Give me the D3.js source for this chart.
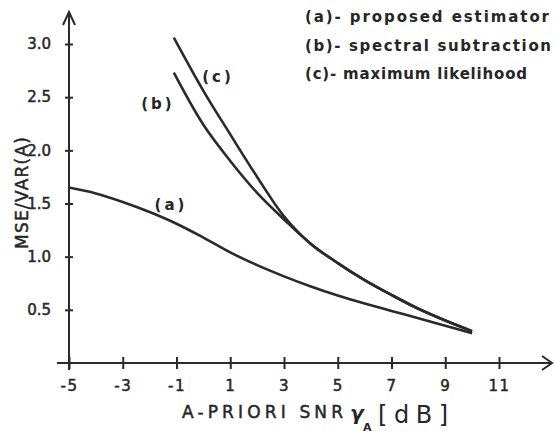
<!DOCTYPE html>
<html>
<head>
<meta charset="utf-8">
<script src="https://cdn.jsdelivr.net/npm/d3@7"></script>
<style>
  html, body { margin: 0; padding: 0; background: #ffffff; }
  svg { display: block; }
  text { font-family: "DejaVu Sans", "Liberation Sans", sans-serif; fill: #262626; }
</style>
</head>
<body>
<svg id="chart" width="555" height="437"></svg>
<script>
// ---- data ----
const xTicks = [-5, -3, -1, 1, 3, 5, 7, 9, 11];
const xTickLabels = ["-5", "-3", "-1", "1", "3", "5", "7", "9", "11"];
const yTicks = [0.5, 1.0, 1.5, 2.0, 2.5, 3.0];
const yTickLabels = ["0.5", "1.0", "1.5", "2.0", "2.5", "3.0"];

const xA = [-5, -4, -3, -2, -1, 0, 1, 2, 3, 4, 5, 6, 7, 8, 9, 10];
const yA = [1.65, 1.595, 1.515, 1.42, 1.31, 1.18, 1.04, 0.92, 0.815, 0.72, 0.635, 0.56, 0.49, 0.42, 0.35, 0.28];

const xB = [-1.1, 0, 1, 2, 3, 4, 5, 6, 7, 8, 9, 10];
const yB = [2.73, 2.24, 1.90, 1.60, 1.35, 1.12, 0.94, 0.78, 0.64, 0.51, 0.40, 0.30];

const xC = [-1.1, 0, 1, 2, 3, 4, 5, 6, 7, 8, 9, 10];
const yC = [3.06, 2.56, 2.15, 1.75, 1.38, 1.12, 0.94, 0.78, 0.64, 0.51, 0.40, 0.30];

const legendLines = ["(a)- proposed estimator", "(b)- spectral subtraction", "(c)- maximum likelihood"];
const curveLabels = ["(a)", "(b)", "(c)"];

// ---- chart ----
const svg = d3.select("#chart");
const ink = "#2a2a2a";

const x = d3.scaleLinear().domain([-5, 11]).range([69, 499]);
const y = d3.scaleLinear().domain([0, 3]).range([363, 44]);

// axis lines with arrows
svg.append("line").attr("x1", 57).attr("x2", 552).attr("y1", y(0)).attr("y2", y(0))
  .attr("stroke", ink).attr("stroke-width", 2);
svg.append("path").attr("d", `M542,${y(0) - 7} L552,${y(0)} L542,${y(0) + 7}`)
  .attr("fill", "none").attr("stroke", ink).attr("stroke-width", 2);
svg.append("line").attr("x1", x(-5)).attr("x2", x(-5)).attr("y1", 370).attr("y2", 12)
  .attr("stroke", ink).attr("stroke-width", 2);
svg.append("path").attr("d", `M${x(-5) - 6},25 L${x(-5)},12 L${x(-5) + 6},25`)
  .attr("fill", "none").attr("stroke", ink).attr("stroke-width", 2);

// x axis ticks
const xAxis = d3.axisBottom(x).tickValues(xTicks)
  .tickFormat((d, i) => xTickLabels[i]).tickSize(6).tickPadding(11);
const gx = svg.append("g").attr("transform", `translate(0,${y(0)})`).call(xAxis);
gx.select(".domain").remove();
gx.selectAll(".tick line").attr("y1", -6).attr("y2", 6).attr("stroke", ink).attr("stroke-width", 2);
gx.selectAll(".tick text").attr("font-size", 15).attr("font-weight", "normal")
  .attr("fill", ink).attr("stroke", ink).attr("stroke-width", 0.5)
  .attr("font-family", "DejaVu Sans").attr("letter-spacing", 1.5);

// y axis ticks
const yAxis = d3.axisLeft(y).tickValues(yTicks)
  .tickFormat((d, i) => yTickLabels[i]).tickSize(4).tickPadding(14);
const gy = svg.append("g").attr("transform", `translate(${x(-5)},0)`).call(yAxis);
gy.select(".domain").remove();
gy.selectAll(".tick line").attr("x1", -4).attr("x2", 4).attr("stroke", ink).attr("stroke-width", 2);
gy.selectAll(".tick text").attr("font-size", 15).attr("font-weight", "normal")
  .attr("fill", ink).attr("stroke", ink).attr("stroke-width", 0.5)
  .attr("font-family", "DejaVu Sans");

// curves
const line = d3.line().x(d => x(d[0])).y(d => y(d[1])).curve(d3.curveCatmullRom.alpha(0.5));
const series = [
  d3.zip(xA, yA),
  d3.zip(xB, yB),
  d3.zip(xC, yC)
];
svg.selectAll("path.curve").data(series).enter().append("path")
  .attr("class", "curve")
  .attr("d", line)
  .attr("fill", "none").attr("stroke", ink).attr("stroke-width", 2.6)
  .attr("stroke-linejoin", "round").attr("stroke-linecap", "butt");

// curve labels
const curveLabelPos = [[171, 210], [158, 109], [218, 82]];
svg.selectAll("text.clab").data(curveLabels).enter().append("text")
  .attr("class", "clab")
  .attr("x", (d, i) => curveLabelPos[i][0])
  .attr("y", (d, i) => curveLabelPos[i][1])
  .attr("text-anchor", "middle")
  .attr("font-size", 15).attr("font-weight", "bold")
  .attr("letter-spacing", 3)
  .text(d => d);

// legend
const legendWidths = [244, 246, 222];
svg.selectAll("text.leg").data(legendLines).enter().append("text")
  .attr("class", "leg")
  .attr("x", 305)
  .attr("y", (d, i) => 22 + i * 28.5)
  .attr("font-size", 15).attr("font-weight", "bold")
  .attr("textLength", (d, i) => legendWidths[i])
  .attr("lengthAdjust", "spacing")
  .text(d => d);

// y axis title
svg.append("text")
  .attr("transform", "translate(28,193) rotate(-90)")
  .attr("text-anchor", "middle")
  .attr("font-size", 17).attr("font-weight", "normal")
  .attr("stroke", ink).attr("stroke-width", 0.5)
  .attr("textLength", 112).attr("lengthAdjust", "spacing")
  .text("MSE/VAR(A)");

// x axis title
svg.append("text").attr("x", 182).attr("y", 418)
  .attr("font-size", 17).attr("font-weight", "normal")
  .attr("stroke", ink).attr("stroke-width", 0.5)
  .attr("textLength", 161).attr("lengthAdjust", "spacing")
  .text("A-PRIORI SNR");
svg.append("text").attr("x", 350).attr("y", 420)
  .attr("font-size", 20).attr("font-style", "italic").attr("font-weight", "bold")
  .text("γ");
svg.append("text").attr("x", 363).attr("y", 431)
  .attr("font-size", 11).attr("font-weight", "bold")
  .text("A");
svg.append("text").attr("x", 378).attr("y", 423)
  .attr("font-size", 24)
  .attr("textLength", 70).attr("lengthAdjust", "spacing")
  .text("[dB]");
</script>
</body>
</html>
